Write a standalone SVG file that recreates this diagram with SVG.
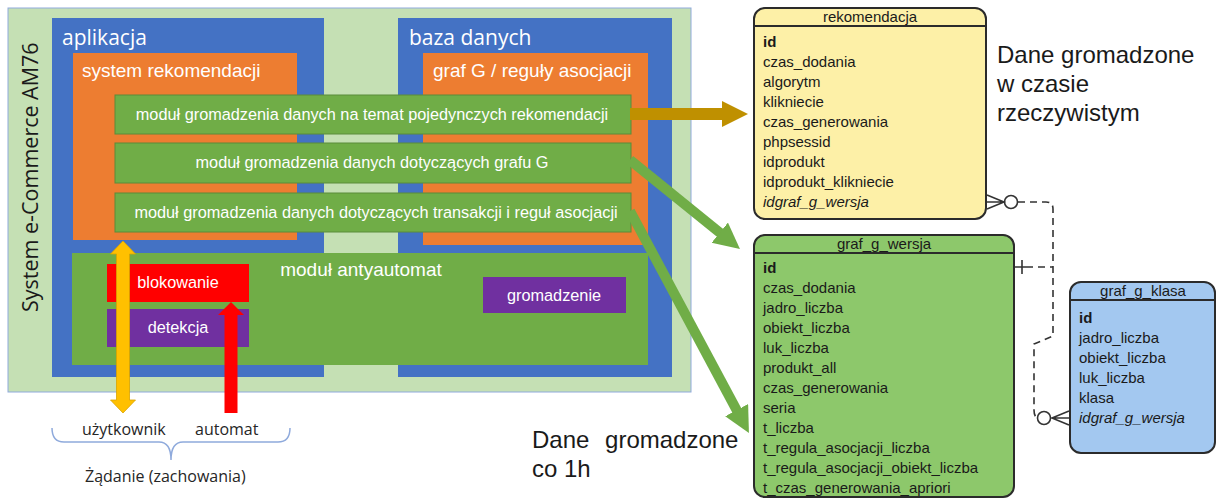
<svg xmlns="http://www.w3.org/2000/svg" width="1217" height="499" viewBox="0 0 1217 499">
  <style>
    .sans { font-family: "Liberation Sans", Arial, sans-serif; }
    .ui { font-family: "Open Sans", "Noto Sans", sans-serif; }
    .box-label { font-size: 21px; fill: #ffffff; }
    .sub-label { font-size: 19px; fill: #ffffff; }
    .mod { fill: #70AD47; stroke: #5B8C3A; stroke-width: 1; }
    .mod-text { font-size: 16.3px; fill: #ffffff; text-anchor: middle; }
    .ent { stroke: #2b2b2b; stroke-width: 2; }
    .ent-title { font-size: 15px; fill: #1a1a1a; text-anchor: middle; }
    .ent-row { font-size: 15px; fill: #1a1a1a; }
    .pk { font-weight: bold; }
    .fk { font-style: italic; }
    .note { font-size: 24px; fill: #1a1a1a; }
    .rel { fill: none; stroke: #333333; stroke-width: 1.6; }
    .dash { stroke-dasharray: 7 5; }
  </style>
  <defs>
    <marker id="headGold" markerUnits="userSpaceOnUse" markerWidth="28" markerHeight="28" refX="2" refY="13" orient="auto">
      <path d="M0,0 L26,13 L0,26 z" fill="#BF9000"/>
    </marker>
    <marker id="headGreen" markerUnits="userSpaceOnUse" markerWidth="28" markerHeight="28" refX="2" refY="13" orient="auto">
      <path d="M0,0 L26,13 L0,26 z" fill="#70AD47"/>
    </marker>
  </defs>

  <rect width="1217" height="499" fill="#ffffff"/>

  <!-- outer system frame -->
  <g id="system">
    <rect x="8" y="8" width="683" height="384" fill="#C5E0B4" stroke="#8FAADC" stroke-width="1"/>
    <text class="ui" font-size="21.5" fill="#1a1a1a" transform="translate(38,312) rotate(-90)">System e-Commerce AM76</text>
  </g>

  <g id="aplikacja">
    <rect x="52" y="18" width="272" height="359" fill="#4472C4"/>
    <text class="ui box-label" x="62" y="45">aplikacja</text>
  </g>

  <g id="baza-danych">
    <rect x="398" y="18" width="274" height="359" fill="#4472C4"/>
    <text class="ui box-label" x="409" y="45">baza danych</text>
  </g>

  <g id="system-rekomendacji">
    <rect x="73" y="53" width="224" height="187" fill="#ED7D31"/>
    <text class="sans sub-label" x="82" y="77">system rekomendacji</text>
  </g>

  <g id="graf-g">
    <rect x="423" y="53" width="225" height="192" fill="#ED7D31"/>
    <text class="sans sub-label" x="433" y="77">graf G / reguły asocjacji</text>
  </g>

  <g id="modul-rekomendacje">
    <rect class="mod" x="115" y="95" width="516" height="39"/>
    <text class="sans mod-text" x="372" y="120">moduł gromadzenia danych na temat pojedynczych rekomendacji</text>
  </g>

  <g id="modul-graf">
    <rect class="mod" x="115" y="143" width="516" height="40"/>
    <text class="sans mod-text" x="372" y="168">moduł gromadzenia danych dotyczących grafu G</text>
  </g>

  <g id="modul-transakcje">
    <rect class="mod" x="115" y="193" width="516" height="39"/>
    <text class="sans mod-text" x="376" y="218">moduł gromadzenia danych dotyczących transakcji i reguł asocjacji</text>
  </g>

  <g id="modul-antyautomat">
    <rect x="72" y="253" width="576" height="112" fill="#70AD47"/>
    <text class="sans" font-size="19" fill="#ffffff" text-anchor="middle" x="361" y="276">moduł antyautomat</text>
  </g>

  <g id="blokowanie">
    <rect x="107" y="264" width="142" height="38" fill="#FF0000"/>
    <text class="sans mod-text" x="178" y="288">blokowanie</text>
  </g>

  <g id="detekcja">
    <rect x="107" y="309" width="142" height="38" fill="#7030A0"/>
    <text class="sans mod-text" x="178" y="333">detekcja</text>
  </g>

  <g id="gromadzenie">
    <rect x="483" y="277" width="143" height="36" fill="#7030A0"/>
    <text class="sans mod-text" x="554" y="301">gromadzenie</text>
  </g>

  <!-- request sources below the system -->
  <g id="zadanie">
    <text class="ui" font-size="16" fill="#262626" x="82" y="435">użytkownik</text>
    <text class="ui" font-size="16" fill="#262626" x="195" y="435">automat</text>
    <path d="M52,428 Q52,442 64,442 H159 Q171,442 171,460 Q171,442 183,442 H278 Q290,442 290,428" fill="none" stroke="#8FAADC" stroke-width="1.5"/>
    <text class="ui" font-size="16" fill="#262626" x="85" y="482">Żądanie (zachowania)</text>
  </g>

  <!-- entity: rekomendacja -->
  <g id="rekomendacja">
    <rect class="ent" x="754" y="8" width="232" height="211" rx="11" fill="#FDF0A7"/>
    <line class="ent" x1="754" y1="26" x2="986" y2="26"/>
    <text class="sans ent-title" x="870" y="22">rekomendacja</text>
    <text class="sans ent-row pk" x="763" y="47">id</text>
    <text class="sans ent-row" x="763" y="67">czas_dodania</text>
    <text class="sans ent-row" x="763" y="87">algorytm</text>
    <text class="sans ent-row" x="763" y="107">klikniecie</text>
    <text class="sans ent-row" x="763" y="127">czas_generowania</text>
    <text class="sans ent-row" x="763" y="147">phpsessid</text>
    <text class="sans ent-row" x="763" y="167">idprodukt</text>
    <text class="sans ent-row" x="763" y="187">idprodukt_klikniecie</text>
    <text class="sans ent-row fk" x="763" y="207">idgraf_g_wersja</text>
  </g>

  <!-- entity: graf_g_wersja -->
  <g id="graf_g_wersja">
    <rect class="ent" x="754" y="235" width="260" height="262" rx="11" fill="#8DC86B"/>
    <line class="ent" x1="754" y1="253" x2="1014" y2="253"/>
    <text class="sans ent-title" x="884" y="249">graf_g_wersja</text>
    <text class="sans ent-row pk" x="763" y="273">id</text>
    <text class="sans ent-row" x="763" y="293">czas_dodania</text>
    <text class="sans ent-row" x="763" y="313">jadro_liczba</text>
    <text class="sans ent-row" x="763" y="333">obiekt_liczba</text>
    <text class="sans ent-row" x="763" y="353">luk_liczba</text>
    <text class="sans ent-row" x="763" y="373">produkt_all</text>
    <text class="sans ent-row" x="763" y="393">czas_generowania</text>
    <text class="sans ent-row" x="763" y="413">seria</text>
    <text class="sans ent-row" x="763" y="433">t_liczba</text>
    <text class="sans ent-row" x="763" y="453">t_regula_asocjacji_liczba</text>
    <text class="sans ent-row" x="763" y="473">t_regula_asocjacji_obiekt_liczba</text>
    <text class="sans ent-row" x="763" y="493">t_czas_generowania_apriori</text>
  </g>

  <!-- entity: graf_g_klasa -->
  <g id="graf_g_klasa">
    <rect class="ent" x="1070" y="282" width="145" height="171" rx="11" fill="#A3C8F0"/>
    <line class="ent" x1="1070" y1="300" x2="1215" y2="300"/>
    <text class="sans ent-title" x="1143" y="296">graf_g_klasa</text>
    <text class="sans ent-row pk" x="1079" y="323">id</text>
    <text class="sans ent-row" x="1079" y="343">jadro_liczba</text>
    <text class="sans ent-row" x="1079" y="363">obiekt_liczba</text>
    <text class="sans ent-row" x="1079" y="383">luk_liczba</text>
    <text class="sans ent-row" x="1079" y="403">klasa</text>
    <text class="sans ent-row fk" x="1079" y="423">idgraf_g_wersja</text>
  </g>

  <!-- free notes -->
  <g id="note-realtime">
    <text class="sans note" x="997" y="63">Dane gromadzone</text>
    <text class="sans note" x="997" y="92">w czasie</text>
    <text class="sans note" x="997" y="121">rzeczywistym</text>
  </g>
  <g id="note-hourly">
    <text class="sans note" x="532" y="448" word-spacing="9">Dane gromadzone</text>
    <text class="sans note" x="532" y="477">co 1h</text>
  </g>

  <!-- connectors -->
  <g id="connectors">
    <!-- data flows from modules to tables -->
    <line x1="630" y1="114" x2="724" y2="114" stroke="#BF9000" stroke-width="12" marker-end="url(#headGold)"/>
    <line x1="630" y1="160" x2="721.3" y2="233.9" stroke="#70AD47" stroke-width="10" marker-end="url(#headGreen)"/>
    <line x1="630" y1="211" x2="737.6" y2="411.9" stroke="#70AD47" stroke-width="10" marker-end="url(#headGreen)"/>

    <!-- user request: two-way -->
    <polygon points="123,241 135.5,254 129.5,254 129.5,400 135.5,400 123,413 110.5,400 116.5,400 116.5,254 110.5,254" fill="#FFC000" stroke="#D9A300" stroke-width="0.8"/>
    <!-- bot request: stopped at blocking -->
    <polygon points="231,302 244,315 237.5,315 237.5,413 224.5,413 224.5,315 218,315" fill="#FF0000"/>

    <!-- relationship rekomendacja / graf_g_klasa -> graf_g_wersja -->
    <path class="rel dash" d="M1018,202 H1046 Q1053,202 1053,209 V336 L1034,344 V410 Q1034,416 1037,418"/>
    <path class="rel dash" d="M1026,267 H1053"/>
    <!-- crow's foot with zero at rekomendacja -->
    <path class="rel" d="M987,195 L1004,202 L987,209 M987,202 H1004"/>
    <circle class="rel" cx="1011" cy="202" r="6.5" fill="#ffffff"/>
    <!-- one at graf_g_wersja -->
    <path class="rel" d="M1015,267 H1026 M1022,260 V274"/>
    <!-- crow's foot with zero at graf_g_klasa -->
    <path class="rel" d="M1069,411 L1052,418 L1069,425 M1052,418 H1069"/>
    <circle class="rel" cx="1044" cy="418" r="6.5" fill="#ffffff"/>
  </g>
</svg>
